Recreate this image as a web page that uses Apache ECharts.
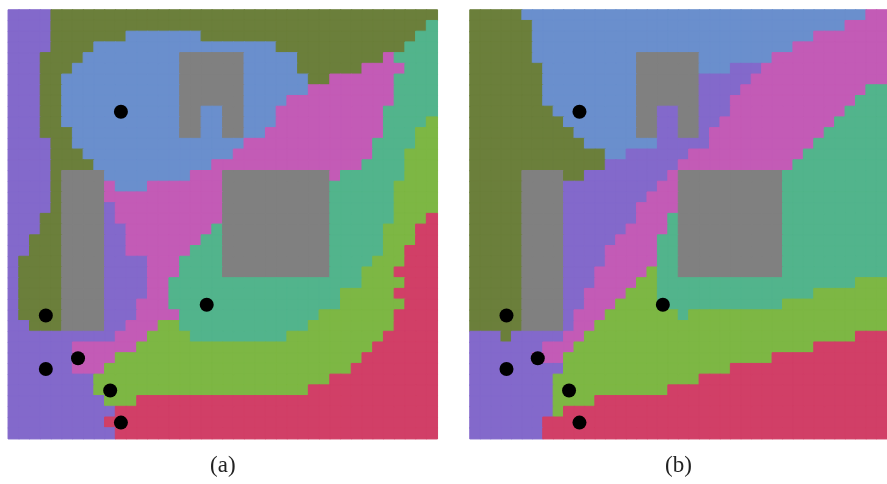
<!DOCTYPE html>
<html>
<head>
<meta charset="utf-8">
<script src="https://cdn.jsdelivr.net/npm/echarts@6/dist/echarts.min.js"></script>
<style>
  html, body { margin: 0; padding: 0; background: #fff; }
  #chart { width: 887px; height: 484px; }
</style>
</head>
<body>
<div id="chart"></div>
<script>
// region of every grid cell, one string per row, run-length coded (letter + count)
const regionNames = ['P', 'O', 'B', 'G', 'M', 'T', 'L', 'R'];
const regionColors = ['#8369cb', '#6b7f3b', '#6a8fcd', '#808080', '#c35bb6', '#52b48c', '#7db744', '#d13f67'];

const rowsA = [
  'P4 O36',
  'P4 O35 T1',
  'P4 O7 B7 O20 T2',
  'P4 O4 B17 O12 T3',
  'P3 O4 B9 G6 B5 O8 M1 T4',
  'P3 O3 B10 G6 B5 O6 M4 T3',
  'P3 O2 B11 G6 B6 O2 M6 T4',
  'P3 O2 B11 G6 B6 M8 T4',
  'P3 O2 B11 G6 B4 M10 T4',
  'P3 O2 B11 G2 B2 G2 B3 M10 T5',
  'P3 O2 B11 G2 B2 G2 B3 M10 T4 L1',
  'P3 O3 B10 G2 B2 G2 B2 M11 T3 L2',
  'P4 O2 B16 M12 T4 L2',
  'P4 O3 B14 M13 T3 L3',
  'P4 O4 B11 M14 T4 L3',
  'P4 O1 G4 B8 M3 G10 M1 T6 L3',
  'P4 O1 G4 M1 B3 M7 G10 T6 L4',
  'P4 O1 G4 M11 G10 T6 L4',
  'P4 O1 G4 P1 M10 G10 T6 L4',
  'P3 O2 G4 P1 M10 G10 T6 L3 R1',
  'P3 O2 G4 P2 M8 T1 G10 T5 L3 R2',
  'P2 O3 G4 P2 M7 T2 G10 T5 L3 R2',
  'P2 O3 G4 P2 M6 T3 G10 T5 L2 R3',
  'P1 O4 G4 P4 M3 T4 G10 T4 L3 R3',
  'P1 O4 G4 P4 M3 T4 G10 T3 L3 R4',
  'P1 O4 G4 P4 M2 T18 L4 R3',
  'P1 O4 G4 P4 M2 T16 L5 R4',
  'P1 O4 G4 P3 M3 T16 L6 R3',
  'P1 O4 G4 P3 M4 T13 L7 R4',
  'P2 O3 G4 P2 M3 L2 T12 L8 R4',
  'P10 M3 L4 T9 L9 R5',
  'P6 M6 L22 R6',
  'P6 M4 L23 R7',
  'P6 M3 L23 R8',
  'P8 L22 R10',
  'P8 L20 R12',
  'P9 L3 R28',
  'P10 R30',
  'P9 R31',
  'P10 R30'
];

const rowsB = [
  'O5 B33 M2',
  'O6 B30 M4',
  'O6 B27 M7',
  'O6 B25 M9',
  'O6 B10 G6 B7 M11',
  'O7 B9 G6 B3 P3 M12',
  'O7 B9 G6 P5 M13',
  'O7 B9 G6 P4 M12 T2',
  'O7 B9 G6 P3 M12 T3',
  'O8 B8 G2 P2 G2 P3 M11 T4',
  'O9 B7 G2 P2 G2 P2 M11 T5',
  'O10 B6 G2 P2 G2 P1 M11 T6',
  'O11 B7 P5 M10 T7',
  'O13 B2 P6 M11 T8',
  'O13 P7 M11 T9',
  'O5 G4 O2 P8 M1 G10 T10',
  'O5 G4 P9 M2 G10 T10',
  'O5 G4 P8 M3 G10 T10',
  'O5 G4 P7 M4 G10 T10',
  'O5 G4 P7 M3 T1 G10 T10',
  'O5 G4 P6 M4 T1 G10 T10',
  'O5 G4 P5 M4 T2 G10 T10',
  'O5 G4 P4 M5 T2 G10 T10',
  'O5 G4 P4 M5 T2 G10 T10',
  'O5 G4 P3 M5 L1 T2 G10 T10',
  'O5 G4 P3 M4 L2 T19 L3',
  'O5 G4 P2 M4 L3 T15 L7',
  'O5 G4 P2 M3 L4 T12 L10',
  'O5 G4 P1 M3 L7 T1 L19',
  'O5 G4 P1 M2 L28',
  'P3 O1 P5 M2 L26 R3',
  'P7 M3 L23 R7',
  'P6 M3 L20 R11',
  'P9 L16 R15',
  'P8 L14 R18',
  'P8 L11 R21',
  'P8 L4 R28',
  'P8 L1 R31',
  'P7 R33',
  'P7 R33'
];

// seed points (same cells in both panels)
const seedCols = [10, 18, 3, 3, 6, 9, 10];
const seedRows = [9, 27, 28, 33, 32, 35, 38];

const panelLabels = ['(a)', '(b)'];
const cats = Array.from({ length: 40 }, (_, i) => i);

let decode = (rows) => {
  let cells = [];
  rows.forEach((row, y) => {
    let x = 0;
    row.split(' ').forEach((run) => {
      let k = regionNames.indexOf(run[0]);
      let n = parseInt(run.slice(1));
      for (let i = 0; i < n; i++) {
        let c = regionColors[k];
        cells.push({ value: [x, y, k], itemStyle: { color: c, borderColor: c, borderWidth: 1 } });
        x++;
      }
    });
    if (x !== 40) console.log('row', y, 'width', x);
  });
  return cells;
};

let seeds = seedCols.map((c, i) => [c, seedRows[i]]);

let chart = echarts.init(document.getElementById('chart'));

let xAxes = [0, 1].map((i) => ({
  gridIndex: i,
  type: 'category',
  data: cats,
  axisLine: { show: false },
  axisTick: { show: false },
  axisLabel: { show: false },
  splitLine: { show: false },
  name: panelLabels[i],
  nameLocation: 'middle',
  nameGap: 16,
  nameTextStyle: { fontFamily: 'Liberation Serif', fontSize: 23, color: '#222', verticalAlign: 'top' }
}));

let yAxes = [0, 1].map((i) => ({
  gridIndex: i,
  type: 'category',
  data: cats,
  inverse: true,
  show: false
}));

let mapSeries = (i, rows) => ({
  type: 'heatmap',
  xAxisIndex: i,
  yAxisIndex: i,
  data: decode(rows),
  emphasis: { disabled: true }
});

let seedSeries = (i) => ({
  type: 'scatter',
  xAxisIndex: i,
  yAxisIndex: i,
  data: seeds,
  symbolSize: 14,
  itemStyle: { color: '#000', opacity: 1 },
  emphasis: { disabled: true },
  z: 5
});

chart.setOption({
  animation: false,
  grid: [
    { left: 8.3, top: 10, width: 429, height: 428.7 },
    { left: 470, top: 10, width: 429, height: 428.7 }
  ],
  xAxis: xAxes,
  yAxis: yAxes,
  series: [mapSeries(0, rowsA), seedSeries(0), mapSeries(1, rowsB), seedSeries(1)]
});
</script>
</body>
</html>
